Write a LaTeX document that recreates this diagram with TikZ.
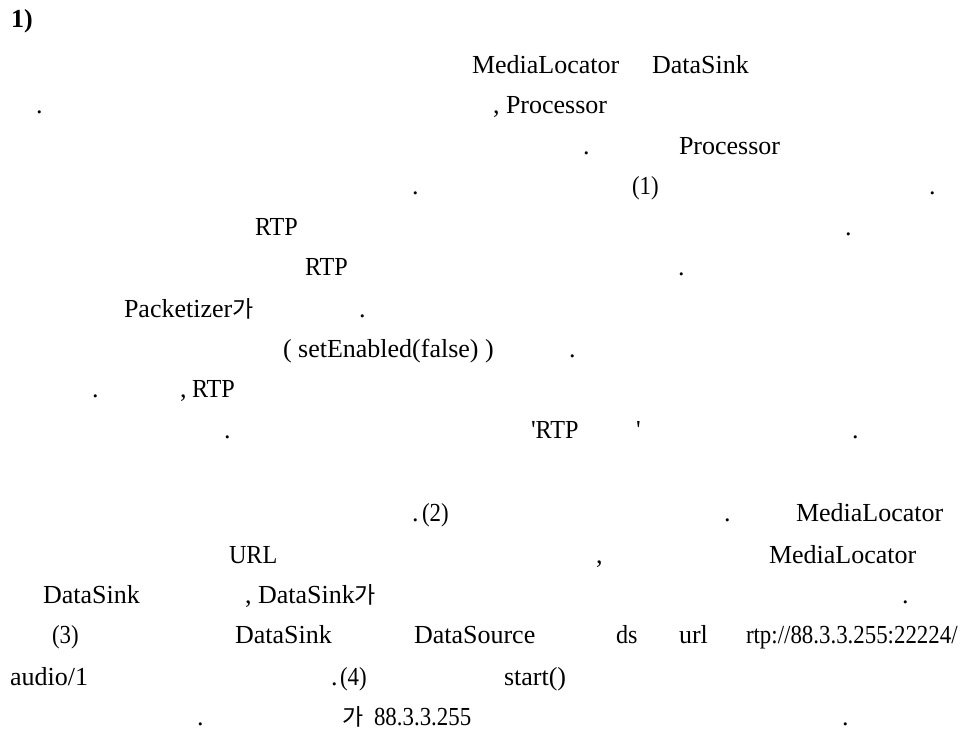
\documentclass[tikz,border=0pt]{standalone}
\usepackage{fontspec}
\setmainfont{Liberation Serif}
\newfontfamily\cnd[FakeStretch=0.88]{Liberation Serif}
\newfontfamily\cnm[FakeStretch=0.93]{Liberation Serif}
\newfontfamily\plain{Liberation Serif}
\newfontfamily\krf{Noto Sans CJK KR}
\newcommand{\ga}{{\krf\fontsize{23}{26}\selectfont 가}}
\newcommand{\sq}{{\plain\symbol{39}}}
\begin{document}
\begin{tikzpicture}[x=1pt,y=1pt,
  t/.style={anchor=base west,inner sep=0pt,outer sep=0pt,font=\fontsize{26}{30}\selectfont},
  tc/.style={t,font=\fontsize{26}{30}\selectfont\cnd},
  tm/.style={t,font=\fontsize{26}{30}\selectfont\cnm}]
\useasboundingbox (0,0) rectangle (975,-731);
% line 1
\node[t,font=\fontsize{26}{30}\selectfont\bfseries] (h1) at (11,-27) {1)};
% line 2
\node[t] (a1) at (472,-73) {MediaLocator};
\node[t] (a2) at (652,-73) {DataSink};
% line 3
\node[t] (b1) at (36,-113) {.};
\node[t] (b2) at (493,-113) {, Processor};
% line 4
\node[t] (c1) at (583,-154) {.};
\node[t] (c2) at (679,-154) {Processor};
% line 5
\node[t] (d1) at (412,-194) {.};
\node[tc] (d2) at (632,-194) {(1)};
\node[t] (d3) at (929,-194) {.};
% line 6
\node[tm] (e1) at (255,-235) {RTP};
\node[t] (e2) at (845,-235) {.};
% line 7
\node[tm] (f1) at (305,-275) {RTP};
\node[t] (f2) at (678,-275) {.};
% line 8
\node[t] (g1) at (124,-317) {Packetizer\ga};
\node[t] (g2) at (359,-317) {.};
% line 9
\node[t] (i1) at (283,-357) {( setEnabled(false) )};
\node[t] (i2) at (569,-357) {.};
% line 10
\node[t] (j1) at (92,-397) {.};
\node[t] (j2) at (180,-397) {,};
\node[tm] (j3) at (192,-397) {RTP};
% line 11
\node[t] (k1) at (224,-438) {.};
\node[tm] (k2) at (531,-438) {\sq RTP};
\node[tm] (k3) at (636,-438) {\sq};
\node[t] (k4) at (852,-438) {.};
% line 12
\node[t] (l1) at (412,-521) {.};
\node[tc] (l2) at (422,-521) {(2)};
\node[t] (l3) at (724,-521) {.};
\node[t] (l4) at (796,-521) {MediaLocator};
% line 13
\node[tm] (m1) at (229,-563) {URL};
\node[t] (m2) at (596,-563) {,};
\node[t] (m3) at (769,-563) {MediaLocator};
% line 14
\node[t] (n1) at (43,-603) {DataSink};
\node[t] (n2) at (245,-603) {, DataSink\ga};
\node[t] (n3) at (902,-603) {.};
% line 15
\node[tc] (o1) at (52,-643) {(3)};
\node[t] (o2) at (235,-643) {DataSink};
\node[t] (o3) at (414,-643) {DataSource};
\node[tm] (o4) at (616,-643) {ds};
\node[t] (o5) at (679,-643) {url};
\node[tc] (o6) at (746,-643) {rtp://88.3.3.255:22224/};
% line 16
\node[t] (p1) at (10,-685) {audio/1};
\node[t] (p2) at (331,-685) {.};
\node[tc] (p3) at (340,-685) {(4)};
\node[t] (p4) at (504,-685) {start()};
% line 17
\node[t] (q1) at (197,-725) {.};
\node[t] (q2) at (342,-725) {\ga};
\node[tc] (q3) at (374,-725) {88.3.3.255};
\node[t] (q4) at (842,-725) {.};
\end{tikzpicture}
\end{document}
